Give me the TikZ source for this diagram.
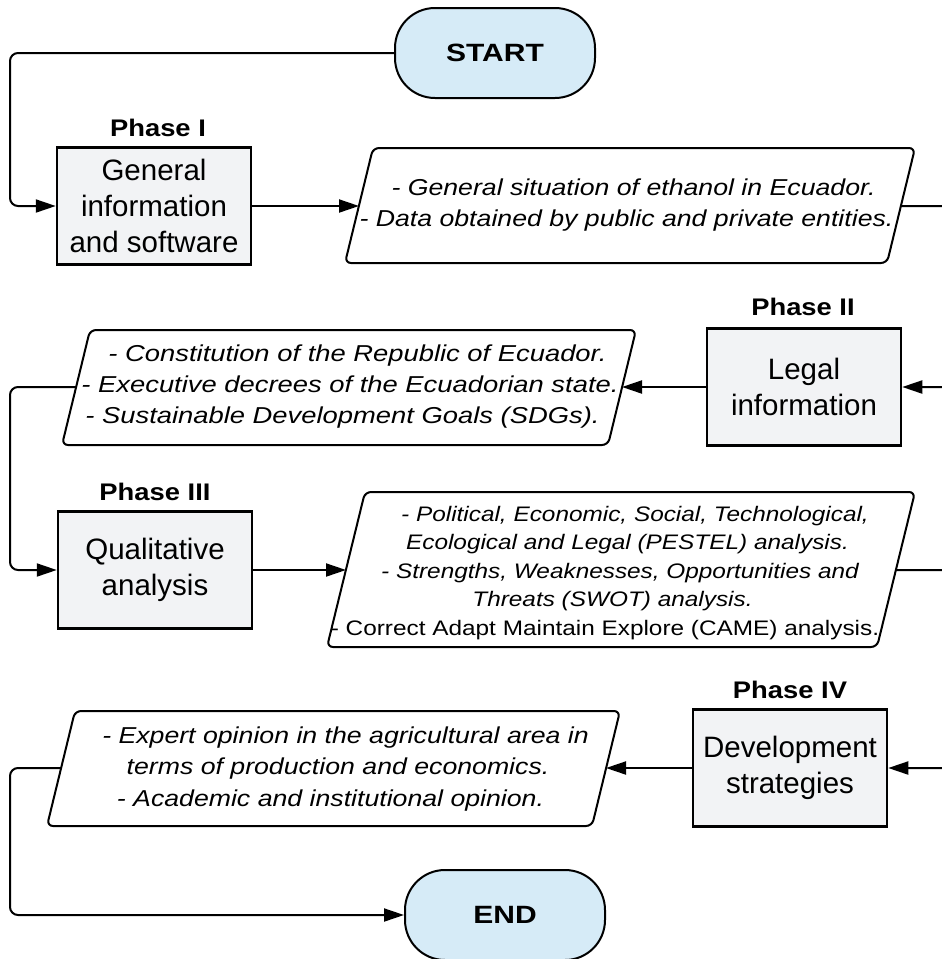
\documentclass[tikz,border=0pt]{standalone}
\usepackage{fontspec}
\setmainfont{Liberation Sans}
\newfontfamily\parafont[FakeStretch=1.16]{Liberation Sans}
\newfontfamily\parafontw[FakeStretch=1.19]{Liberation Sans}
\newfontfamily\termfont[FakeStretch=1.2]{Liberation Sans}
\newfontfamily\labelfont[FakeStretch=1.14]{Liberation Sans}
\usetikzlibrary{arrows.meta}
\definecolor{termblue}{HTML}{D6EBF7}
\definecolor{boxgray}{HTML}{F2F3F5}
\newcommand{\lsh}[1]{\hspace*{#1}}
\begin{document}
\begin{tikzpicture}[x=1pt,y=-1pt,
  conn/.style={line width=2pt, rounded corners=8pt},
  arr/.style={conn,-{Triangle[length=20pt,width=13pt]}},
  term/.style={draw, line width=2pt, fill=termblue, rounded corners=40pt,
    minimum width=200pt, minimum height=90pt, inner sep=0pt,
    font=\termfont\bfseries\fontsize{25}{30}\selectfont},
  phasebox/.style={draw, line width=2.5pt, fill=boxgray, minimum width=194pt,
    minimum height=117pt, inner sep=0pt, align=center,
    font=\fontsize{29.5}{36}\selectfont},
  phaselabel/.style={font=\labelfont\bfseries\fontsize{24}{30}\selectfont},
  paratext/.style={align=center, inner sep=0pt, font=\parafont\itshape\fontsize{23}{31.5}\selectfont},
  parashape/.style={draw, line width=2pt, fill=white, rounded corners=6pt},
]
\useasboundingbox (0,0) rectangle (942,959);

% START
\node[term] (start) at (495,53) {START};

% Phase I
\node[phaselabel] (ph1) at (158,128) {Phase I};
\node[phasebox] (b1) at (154,206) {General\\information\\and software};
\draw[parashape] (373,148) -- (915,148) -- (887,263) -- (345,263) -- cycle;
\coordinate (p1w) at (359,206);
\coordinate (p1e) at (901,206);
\node[paratext] (t1) at (630,205) {\lsh{7pt}- General situation of ethanol in Ecuador.\\\lsh{-7pt}- Data obtained by public and private entities.};

% Phase II
\node[phaselabel] (ph2) at (803,307) {Phase II};
\node[phasebox] (b2) at (804,387) {Legal\\information};
\draw[parashape] (90,330) -- (636,330) -- (608,445) -- (62,445) -- cycle;
\coordinate (p2w) at (76,387);
\coordinate (p2e) at (622,387);
\node[paratext, font=\parafontw\itshape\fontsize{23}{31}\selectfont] (t2) at (350,387) {\lsh{15pt}- Constitution of the Republic of Ecuador.\\- Executive decrees of the Ecuadorian state.\\\lsh{-15pt}- Sustainable Development Goals (SDGs).};

% Phase III
\node[phaselabel] (ph3) at (155,492) {Phase III};
\node[phasebox] (b3) at (155,570) {Qualitative\\analysis};
\draw[parashape] (365,492) -- (915,492) -- (877,647) -- (327,647) -- cycle;
\coordinate (p3w) at (346,570);
\coordinate (p3e) at (896,570);
\node[align=center, inner sep=0pt, font=\parafont\fontsize{21}{28.5}\selectfont] (t3) at (620,573)
  {\itshape\lsh{30pt}- Political, Economic, Social, Technological,\\\itshape\lsh{15pt}Ecological and Legal (PESTEL) analysis.\\\itshape - Strengths, Weaknesses, Opportunities and\\\itshape\lsh{-15pt}Threats (SWOT) analysis.\\\lsh{-30pt}- Correct Adapt Maintain Explore (CAME) analysis.};

% Phase IV
\node[phaselabel] (ph4) at (790,690) {Phase IV};
\node[phasebox] (b4) at (790,768) {Development\\strategies};
\draw[parashape] (75,711) -- (620,711) -- (592,826) -- (47,826) -- cycle;
\coordinate (p4w) at (61,768);
\coordinate (p4e) at (606,768);
\node[paratext] (t4) at (338,769) {\lsh{15pt}- Expert opinion in the agricultural area in\\terms of production and economics.\\\lsh{-15pt}- Academic and institutional opinion.};

% END
\node[term] (end) at (505,915) {END};

% connectors
\draw[arr] (start.west) -| (10,130) |- (b1.west);
\draw[arr] (b1.east) -- (p1w);
\draw[arr] (p1e) -- (965,206) |- (b2.east);
\draw[arr] (b2.west) -- (p2e);
\draw[arr] (p2w) -| (10,480) |- (b3.west);
\draw[arr] (b3.east) -- (p3w);
\draw[arr] (p3e) -- (965,570) |- (b4.east);
\draw[arr] (b4.west) -- (p4e);
\draw[arr] (p4w) -| (10,850) |- (end.west);
\end{tikzpicture}
\end{document}
